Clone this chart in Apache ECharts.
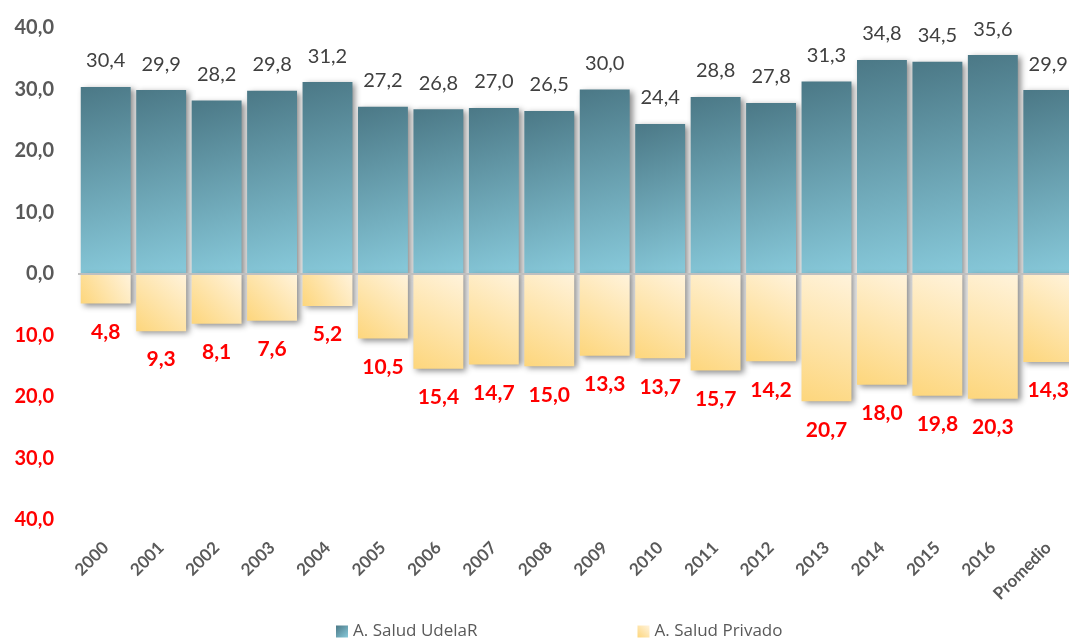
<!DOCTYPE html>
<html>
<head>
<meta charset="utf-8">
<script src="https://cdn.jsdelivr.net/npm/echarts@6/dist/echarts.min.js"></script>
<style>
  html, body { margin: 0; padding: 0; background: #fff; }
  #main { width: 1069px; height: 644px; }
</style>
</head>
<body>
<div id="main"></div>
<script>
const categories = ["2000", "2001", "2002", "2003", "2004", "2005", "2006", "2007", "2008",
  "2009", "2010", "2011", "2012", "2013", "2014", "2015", "2016", "Promedio"];
const udelar = [30.4, 29.9, 28.2, 29.8, 31.2, 27.2, 26.8, 27.0, 26.5, 30.0, 24.4, 28.8, 27.8, 31.3, 34.8, 34.5, 35.6, 29.9];
const privado = [4.8, 9.3, 8.1, 7.6, 5.2, 10.5, 15.4, 14.7, 15.0, 13.3, 13.7, 15.7, 14.2, 20.7, 18.0, 19.8, 20.3, 14.3];

const fmt = (v) => Math.abs(v).toFixed(1).replace(".", ",");
const font = "Lato";

const chart = echarts.init(document.getElementById("main"));
const option = {
  animation: false,
  grid: { left: 78, right: -7, top: 28, bottom: 124, outerBoundsMode: "none" },
  legend: {
    bottom: -1,
    left: 331,
    itemGap: 160,
    itemWidth: 12,
    itemHeight: 12,
    icon: "rect",
    textStyle: { color: "#595959", fontFamily: "Open Sans", fontSize: 17 },
    data: ["A. Salud UdelaR", "A. Salud Privado"]
  },
  xAxis: {
    type: "category",
    data: categories,
    axisLine: { show: false, onZero: false },
    axisTick: { show: false },
    axisLabel: {
      rotate: 45,
      interval: 0,
      margin: 25,
      color: "#595959",
      fontFamily: font,
      fontWeight: "bold",
      fontSize: 17
    }
  },
  yAxis: {
    type: "value",
    min: -40,
    max: 40,
    interval: 10,
    splitLine: { show: false },
    axisLine: { show: false },
    axisTick: { show: false },
    axisLabel: {
      margin: 24,
      fontFamily: font,
      fontWeight: "bold",
      fontSize: 20,
      formatter: fmt,
      color: (v) => (v < 0 ? "#ff0000" : "#595959")
    }
  },
  series: [
    {
      name: "A. Salud UdelaR",
      type: "bar",
      stack: "s",
      barCategoryGap: "10%",
      data: udelar,
      itemStyle: {
        color: new echarts.graphic.LinearGradient(0, 0, 1, 1, [
          { offset: 0, color: "#4b7886" },
          { offset: 1, color: "#88cadb" }
        ]),
        shadowColor: "rgba(0,0,0,0.45)",
        shadowBlur: 6,
        shadowOffsetX: 3,
        shadowOffsetY: 2
      },
      label: {
        show: true,
        position: "top",
        distance: 16,
        color: "#404040",
        fontFamily: font,
        fontSize: 20,
        formatter: (p) => fmt(p.value)
      },
      markLine: {
        silent: true,
        symbol: "none",
        label: { show: false },
        lineStyle: { color: "#bfbfbf", type: "solid", width: 2 },
        data: [{ yAxis: 0 }]
      }
    },
    {
      name: "A. Salud Privado",
      type: "bar",
      stack: "s",
      barCategoryGap: "10%",
      data: privado.map((v) => -v),
      itemStyle: {
        color: new echarts.graphic.LinearGradient(1, 0, 0, 1, [
          { offset: 0, color: "#fff3dc" },
          { offset: 1, color: "#fdd67c" }
        ]),
        shadowColor: "rgba(0,0,0,0.45)",
        shadowBlur: 6,
        shadowOffsetX: 3,
        shadowOffsetY: 2
      },
      label: {
        show: true,
        position: "bottom",
        distance: 18,
        color: "#ff0000",
        fontFamily: font,
        fontWeight: "bold",
        fontSize: 21,
        formatter: (p) => fmt(p.value)
      }
    }
  ]
};
chart.setOption(option);
</script>
</body>
</html>
